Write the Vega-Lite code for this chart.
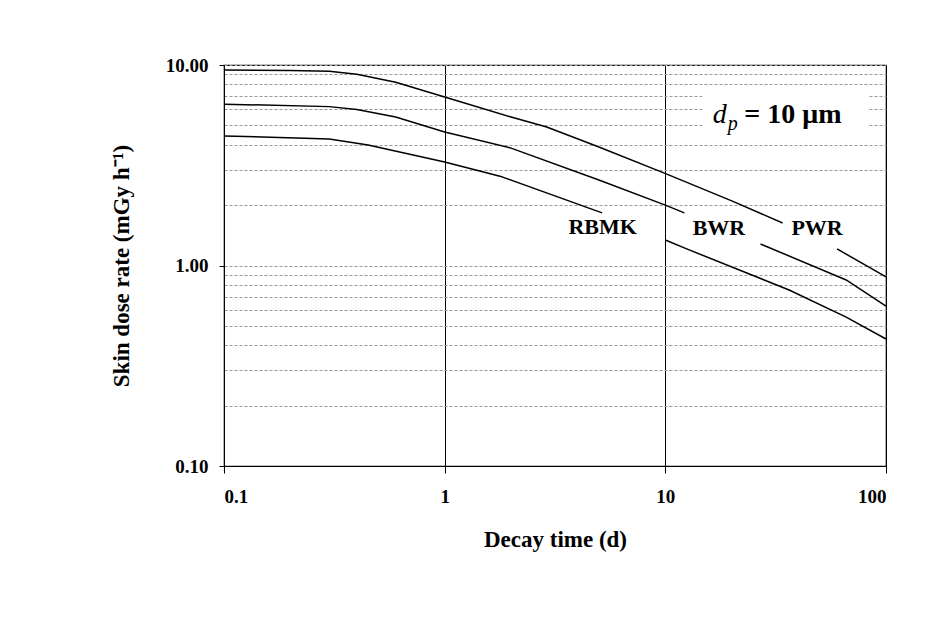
{
  "$schema": "https://vega.github.io/schema/vega-lite/v6.json",
  "width": 662,
  "height": 401,
  "autosize": {"type": "none"},
  "padding": {"left": 224, "top": 65, "right": 62, "bottom": 154},
  "background": "white",
  "config": {"view": {"stroke": "black", "strokeWidth": 1.2}, "font": "Liberation Serif"},
  "datasets": {
    "box": [{"x": 14.7, "x2": 82.8, "y": 4.48, "y2": 7.5}],
    "curves": [
      {"reactor": "PWR", "segment": "PWR-a", "x": 0.1, "y": 9.44},
      {"reactor": "PWR", "segment": "PWR-a", "x": 0.2, "y": 9.4},
      {"reactor": "PWR", "segment": "PWR-a", "x": 0.3, "y": 9.3},
      {"reactor": "PWR", "segment": "PWR-a", "x": 0.4, "y": 9.0},
      {"reactor": "PWR", "segment": "PWR-a", "x": 0.6, "y": 8.2},
      {"reactor": "PWR", "segment": "PWR-a", "x": 1, "y": 6.92},
      {"reactor": "PWR", "segment": "PWR-a", "x": 2, "y": 5.5},
      {"reactor": "PWR", "segment": "PWR-a", "x": 2.9, "y": 4.91},
      {"reactor": "PWR", "segment": "PWR-a", "x": 5, "y": 3.9},
      {"reactor": "PWR", "segment": "PWR-a", "x": 9.9, "y": 2.89},
      {"reactor": "PWR", "segment": "PWR-a", "x": 20, "y": 2.1},
      {"reactor": "PWR", "segment": "PWR-a", "x": 34, "y": 1.63},
      {"reactor": "PWR", "segment": "PWR-b", "x": 60, "y": 1.21},
      {"reactor": "PWR", "segment": "PWR-b", "x": 100, "y": 0.877},
      {"reactor": "BWR", "segment": "BWR-a", "x": 0.1, "y": 6.38},
      {"reactor": "BWR", "segment": "BWR-a", "x": 0.3, "y": 6.2},
      {"reactor": "BWR", "segment": "BWR-a", "x": 0.4, "y": 6.0},
      {"reactor": "BWR", "segment": "BWR-a", "x": 0.6, "y": 5.5},
      {"reactor": "BWR", "segment": "BWR-a", "x": 1, "y": 4.63},
      {"reactor": "BWR", "segment": "BWR-a", "x": 2, "y": 3.85},
      {"reactor": "BWR", "segment": "BWR-a", "x": 5, "y": 2.67},
      {"reactor": "BWR", "segment": "BWR-a", "x": 10, "y": 2.0},
      {"reactor": "BWR", "segment": "BWR-a", "x": 12.2, "y": 1.83},
      {"reactor": "BWR", "segment": "BWR-b", "x": 27, "y": 1.28},
      {"reactor": "BWR", "segment": "BWR-b", "x": 66, "y": 0.847},
      {"reactor": "BWR", "segment": "BWR-b", "x": 100, "y": 0.628},
      {"reactor": "RBMK", "segment": "RBMK-a", "x": 0.1, "y": 4.43},
      {"reactor": "RBMK", "segment": "RBMK-a", "x": 0.3, "y": 4.28},
      {"reactor": "RBMK", "segment": "RBMK-a", "x": 0.45, "y": 3.99},
      {"reactor": "RBMK", "segment": "RBMK-a", "x": 1, "y": 3.28},
      {"reactor": "RBMK", "segment": "RBMK-a", "x": 1.78, "y": 2.79},
      {"reactor": "RBMK", "segment": "RBMK-a", "x": 5.17, "y": 1.83},
      {"reactor": "RBMK", "segment": "RBMK-b", "x": 10, "y": 1.34},
      {"reactor": "RBMK", "segment": "RBMK-b", "x": 12.5, "y": 1.21},
      {"reactor": "RBMK", "segment": "RBMK-b", "x": 36.4, "y": 0.755},
      {"reactor": "RBMK", "segment": "RBMK-b", "x": 66, "y": 0.553},
      {"reactor": "RBMK", "segment": "RBMK-b", "x": 100, "y": 0.43}
    ],
    "labels": [
      {"x": 5.2, "y": 1.56, "text": "RBMK"},
      {"x": 17.5, "y": 1.54, "text": "BWR"},
      {"x": 48.7, "y": 1.54, "text": "PWR"}
    ],
    "dsym": [{"x": 16.4, "y": 5.14, "text": "d"}],
    "psym": [{"x": 19.2, "y": 4.74, "text": "p"}],
    "eqtext": [{"x": 22.8, "y": 5.14, "text": "= 10 μm"}]
  },
  "encoding": {
    "x": {
      "field": "x",
      "type": "quantitative",
      "scale": {"type": "log", "domain": [0.1, 100], "nice": false},
      "axis": {
        "values": [0.1, 1, 10, 100],
        "title": "Decay time (d)",
        "grid": true,
        "gridColor": "black",
        "gridWidth": 1,
        "domainColor": "black",
        "labelExpr": "datum.value < 1 ? '0.1' : format(datum.value, 'd')",
        "labelFont": "Liberation Serif",
        "labelFontWeight": "bold",
        "labelFontSize": 19,
        "labelColor": "black",
        "tickColor": "black",
        "tickSize": 7,
        "labelPadding": 14,
        "titleFont": "Liberation Serif",
        "titleFontWeight": "bold",
        "titleFontSize": 23,
        "titleColor": "black",
        "titlePadding": 22
      }
    },
    "y": {
      "field": "y",
      "type": "quantitative",
      "scale": {"type": "log", "domain": [0.1, 10], "nice": false},
      "axis": {
        "values": [0.1, 0.2, 0.3, 0.4, 0.5, 0.6, 0.7, 0.8, 0.9, 1, 2, 3, 4, 5, 6, 7, 8, 9, 10],
        "title": "Skin dose rate (mGy h⁻¹)",
        "grid": true,
        "gridColor": "#999999",
        "gridDash": [3, 2],
        "gridWidth": 1,
        "domainColor": "black",
        "labelExpr": "(datum.value == 0.1 || datum.value == 1 || datum.value == 10) ? format(datum.value, '.2f') : ''",
        "tickOpacity": {"condition": {"test": "datum.value == 0.1 || datum.value == 1 || datum.value == 10", "value": 1}, "value": 0},
        "labelFont": "Liberation Serif",
        "labelFontWeight": "bold",
        "labelFontSize": 19,
        "labelColor": "black",
        "tickColor": "black",
        "tickSize": 5,
        "labelPadding": 11,
        "titleFont": "Liberation Serif",
        "titleFontWeight": "bold",
        "titleFontSize": 23,
        "titleColor": "black",
        "titlePadding": 32
      }
    }
  },
  "layer": [
    {
      "data": {"name": "box"},
      "mark": {"type": "rect", "color": "white"},
      "encoding": {"x2": {"field": "x2"}, "y2": {"field": "y2"}}
    },
    {
      "data": {"name": "curves"},
      "mark": {"type": "line", "color": "black", "strokeWidth": 1.5},
      "encoding": {"detail": {"field": "segment"}, "order": {"field": "x", "type": "quantitative"}}
    },
    {
      "data": {"name": "labels"},
      "mark": {"type": "text", "font": "Liberation Serif", "fontWeight": "bold", "fontSize": 22, "color": "black", "align": "center", "baseline": "middle"},
      "encoding": {"text": {"field": "text"}}
    },
    {
      "data": {"name": "dsym"},
      "mark": {"type": "text", "font": "Liberation Serif", "fontStyle": "italic", "fontSize": 28, "color": "black", "align": "left", "baseline": "alphabetic"},
      "encoding": {"text": {"field": "text"}}
    },
    {
      "data": {"name": "psym"},
      "mark": {"type": "text", "font": "Liberation Serif", "fontStyle": "italic", "fontSize": 20, "color": "black", "align": "left", "baseline": "alphabetic"},
      "encoding": {"text": {"field": "text"}}
    },
    {
      "data": {"name": "eqtext"},
      "mark": {"type": "text", "font": "Liberation Serif", "fontWeight": "bold", "fontSize": 28, "color": "black", "align": "left", "baseline": "alphabetic"},
      "encoding": {"text": {"field": "text"}}
    }
  ]
}
